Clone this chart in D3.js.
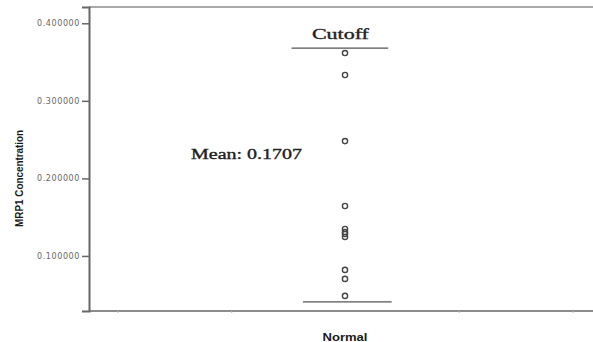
<!DOCTYPE html>
<html>
<head>
<meta charset="utf-8">
<script src="https://cdn.jsdelivr.net/npm/d3@7/dist/d3.min.js"></script>
<style>
body { margin: 0; background: #fff; }
svg { display: block; }
.ticklab { font-family: "DejaVu Sans", sans-serif; font-size: 8px; fill: #666; letter-spacing: 0.6px; }
.note { font-family: "Liberation Serif", serif; font-size: 14px; fill: #222; stroke: #222; stroke-width: 0.35px; }
.title { font-family: "Liberation Sans", Arial, sans-serif; font-weight: bold; fill: #1a1a1a; }
</style>
</head>
<body>
<script>
// values
var category = ["Normal"];
var values = [0.3616, 0.3333, 0.2481, 0.1644, 0.1348, 0.1309, 0.1284, 0.1245, 0.0820, 0.0704, 0.0485];
var yTicks = [0.1, 0.2, 0.3, 0.4];
var xMinorTicks = [-2, -1, 1, 2];
var cutoffValue = 0.368;
var lowValue = 0.0407;
var meanLabel = "Mean: 0.1707";

var width = 593, height = 342;

var svg = d3.select("body").append("svg")
    .attr("width", width)
    .attr("height", height);

var y = d3.scaleLinear().domain([0.029, 0.421]).range([311, 7]);
var x = d3.scaleLinear().domain([-2.25, 2.25]).range([89, 601]);
var xc = d3.scalePoint().domain(category).range([x(-2.25), x(2.25)]).padding(0.5);

// frame: top border
svg.append("line")
    .attr("x1", x(-2.25)).attr("x2", width)
    .attr("y1", y(0.421)).attr("y2", y(0.421))
    .attr("stroke", "#aaa").attr("stroke-width", 2);

// y axis
var yAxis = svg.append("g")
    .attr("transform", "translate(" + x(-2.25) + ",0)")
    .call(d3.axisLeft(y).tickValues(yTicks).tickSize(7).tickFormat(d3.format(".6f")));
yAxis.select(".domain").attr("stroke", "#666").attr("stroke-width", 2);
yAxis.selectAll(".tick line").attr("stroke", "#666").attr("stroke-width", 1.5);
yAxis.selectAll(".tick text").attr("class", "ticklab").attr("x", -9)
    .attr("font-family", null).attr("font-size", null).attr("fill", null);

// x axis
var xAxis = svg.append("g")
    .attr("transform", "translate(0," + y(0.029) + ")")
    .call(d3.axisBottom(x).tickValues(xMinorTicks).tickSize(2).tickSizeOuter(0).tickFormat(""));
xAxis.select(".domain").attr("stroke", "#666").attr("stroke-width", 1.5)
    .attr("d", "M" + x(-2.25) + ",0H" + width);
xAxis.selectAll(".tick line").attr("stroke", "#bbb");

// reference lines
svg.append("line")
    .attr("x1", x(-0.47)).attr("x2", x(0.38))
    .attr("y1", y(cutoffValue)).attr("y2", y(cutoffValue))
    .attr("stroke", "#555").attr("stroke-width", 1.2);
svg.append("line")
    .attr("x1", x(-0.37)).attr("x2", x(0.41))
    .attr("y1", y(lowValue)).attr("y2", y(lowValue))
    .attr("stroke", "#555").attr("stroke-width", 1.2);

// points
svg.append("g").selectAll("circle")
    .data(values)
    .enter().append("circle")
    .attr("cx", xc("Normal"))
    .attr("cy", function(d) { return y(d); })
    .attr("r", 2.6)
    .attr("fill", "none")
    .attr("stroke", "#444")
    .attr("stroke-width", 1.4);

// annotations
svg.append("text").attr("class", "note")
    .attr("x", x(-0.04)).attr("y", y(cutoffValue) - 9)
    .attr("text-anchor", "middle")
    .attr("textLength", 57).attr("lengthAdjust", "spacingAndGlyphs")
    .text("Cutoff");
svg.append("text").attr("class", "note")
    .attr("x", 191).attr("y", 159)
    .attr("textLength", 111).attr("lengthAdjust", "spacingAndGlyphs")
    .text(meanLabel);

// axis titles
svg.append("text").attr("class", "title")
    .attr("font-size", 10)
    .attr("transform", "translate(23," + y(0.2) + ") rotate(-90)")
    .attr("text-anchor", "middle")
    .attr("textLength", 97).attr("lengthAdjust", "spacingAndGlyphs")
    .text("MRP1 Concentration");
svg.append("text").attr("class", "title")
    .attr("font-size", 10)
    .attr("x", xc("Normal")).attr("y", 341)
    .attr("text-anchor", "middle")
    .attr("textLength", 45).attr("lengthAdjust", "spacingAndGlyphs")
    .text("Normal");
</script>
</body>
</html>
